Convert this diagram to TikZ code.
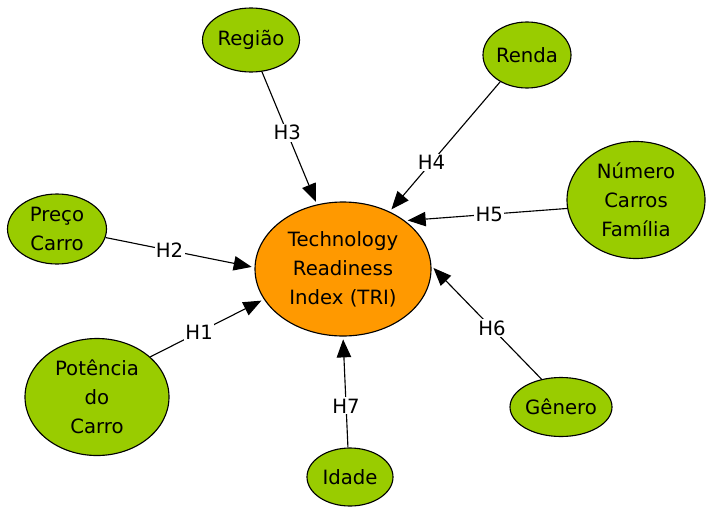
\documentclass[tikz,border=0pt]{standalone}
\usepackage{fontspec}
\setmainfont{DejaVu Sans}
\usetikzlibrary{arrows.meta,shapes.geometric}
\definecolor{verde}{HTML}{99CC00}
\definecolor{laranja}{HTML}{FF9900}
\tikzset{
  fator/.style={ellipse,draw,thick,fill=verde,align=center,inner sep=0pt},
  seta/.style={-{Triangle[length=0.45cm,width=0.36cm]},thick,shorten >=2pt},
  hip/.style={fill=white,inner sep=1pt}
}
\begin{document}
\begin{tikzpicture}[x=0.025cm,y=-0.025cm,font=\fontsize{14}{20.5}\selectfont]
      \useasboundingbox (0,0) rectangle (707,506);
      \node[fator,fill=laranja,minimum width=176*0.025cm,minimum height=134*0.025cm] (tri) at (343,269) {Technology\\Readiness\\Index (TRI)};
      \node[fator,minimum width=97*0.025cm,minimum height=64*0.025cm] (regiao) at (251,40) {Região};
      \node[fator,minimum width=88*0.025cm,minimum height=66*0.025cm] (renda) at (527,55) {Renda};
      \node[fator,minimum width=138*0.025cm,minimum height=117*0.025cm] (numero) at (636,200) {Número\\Carros\\Família};
      \node[fator,minimum width=99*0.025cm,minimum height=70*0.025cm] (preco) at (57,229) {Preço\\Carro};
      \node[fator,minimum width=144*0.025cm,minimum height=117*0.025cm] (potencia) at (97,397) {Potência\\do\\Carro};
      \node[fator,minimum width=102*0.025cm,minimum height=59*0.025cm] (genero) at (561,407) {Gênero};
      \node[fator,minimum width=86*0.025cm,minimum height=58*0.025cm] (idade) at (350,477) {Idade};
      \draw[seta] (potencia.37) -- (tri.201) node[hip,pos=0.43] {H1};
      \draw[seta] (preco.350) -- (tri.179) node[hip,pos=0.43] {H2};
      \draw[seta] (regiao.289) -- (tri.112) node[hip,pos=0.46] {H3};
      \draw[seta] (renda.225) -- (tri.51) node[hip,pos=0.62] {H4};
      \draw[seta] (numero.187) -- (tri.38) node[hip,pos=0.48] {H5};
      \draw[seta] (genero.125) -- (tri.2) node[hip,pos=0.45] {H6};
      \draw[seta] (idade.94) -- (tri.270) node[hip,pos=0.375] {H7};
\end{tikzpicture}
\end{document}
